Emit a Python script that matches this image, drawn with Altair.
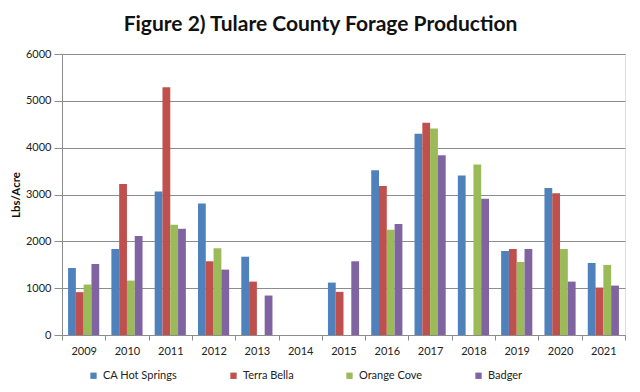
import altair as alt
import pandas as pd

years = ["2009", "2010", "2011", "2012", "2013", "2014", "2015",
         "2016", "2017", "2018", "2019", "2020", "2021"]
series = ["CA Hot Springs", "Terra Bella", "Orange Cove", "Badger"]
ca_hot_springs = [1430, 1836, 3064, 2808, 1672, None, 1119, 3517, 4298, 3404, 1794, 3141, 1538]
terra_bella = [915, 3226, 5290, 1574, 1140, None, 921, 3183, 4532, None, 1836, 3028, 1013]
orange_cove = [1077, 1162, 2353, 1851, None, None, None, 2247, 4411, 3638, 1560, 1836, 1496]
badger = [1517, 2113, 2268, 1396, 843, None, 1574, 2368, 3836, 2907, 1836, 1140, 1055]
colors = ["#4F81BD", "#C0504D", "#9BBB59", "#8064A2"]
y_ticks = [0, 1000, 2000, 3000, 4000, 5000, 6000]

rows = []
for name, vals in zip(series, [ca_hot_springs, terra_bella, orange_cove, badger]):
    for yr, v in zip(years, vals):
        if v is not None:
            rows.append({"year": yr, "series": name, "value": v})
df = pd.DataFrame(rows)

FONT = "Lato"
GRAY = "#8c8c8c"

chart = alt.Chart(df).mark_bar().encode(
    x=alt.X("year:N",
            scale=alt.Scale(domain=years, paddingInner=0, paddingOuter=0),
            axis=alt.Axis(title=None, labelAngle=0, tickBand="extent",
                          domainColor=GRAY, tickColor=GRAY, tickSize=5,
                          labelFont=FONT, labelFontSize=11, labelColor="#222222",
                          labelPadding=5)),
    xOffset=alt.XOffset("series:N",
                        scale=alt.Scale(domain=series, paddingInner=0, paddingOuter=0.78)),
    y=alt.Y("value:Q",
            scale=alt.Scale(domain=[0, 6000]),
            axis=alt.Axis(title="Lbs/Acre", values=y_ticks, format="d", grid=True,
                          gridColor=GRAY, domainColor=GRAY, tickColor=GRAY, tickSize=8,
                          labelFont=FONT, labelFontSize=11, labelColor="#222222",
                          labelPadding=3, titleFont=FONT, titleFontSize=11.5,
                          titleFontWeight="bold", titleColor="#111111", titlePadding=4)),
    color=alt.Color("series:N",
                    scale=alt.Scale(domain=series, range=colors),
                    legend=alt.Legend(title=None, orient="none", direction="horizontal",
                                      columns=4, legendX=26, legendY=316,
                                      symbolType="square", symbolSize=40,
                                      symbolStrokeWidth=0, columnPadding=50,
                                      labelFont=FONT, labelFontSize=11,
                                      labelColor="#222222", padding=0)),
).properties(
    width=563,
    height=281,
    title=alt.TitleParams("Figure 2) Tulare County Forage Production",
                          font=FONT, fontSize=21, fontWeight="bold",
                          color="#111111", anchor="middle", dx=-23, offset=13),
    autosize=alt.AutoSizeParams(type="none"),
    padding={"left": 54, "top": 46, "right": 7, "bottom": 49},
).configure_view(stroke=None).configure(background="white")

chart.save("out.html", embed_options={"renderer": "svg", "actions": False})
